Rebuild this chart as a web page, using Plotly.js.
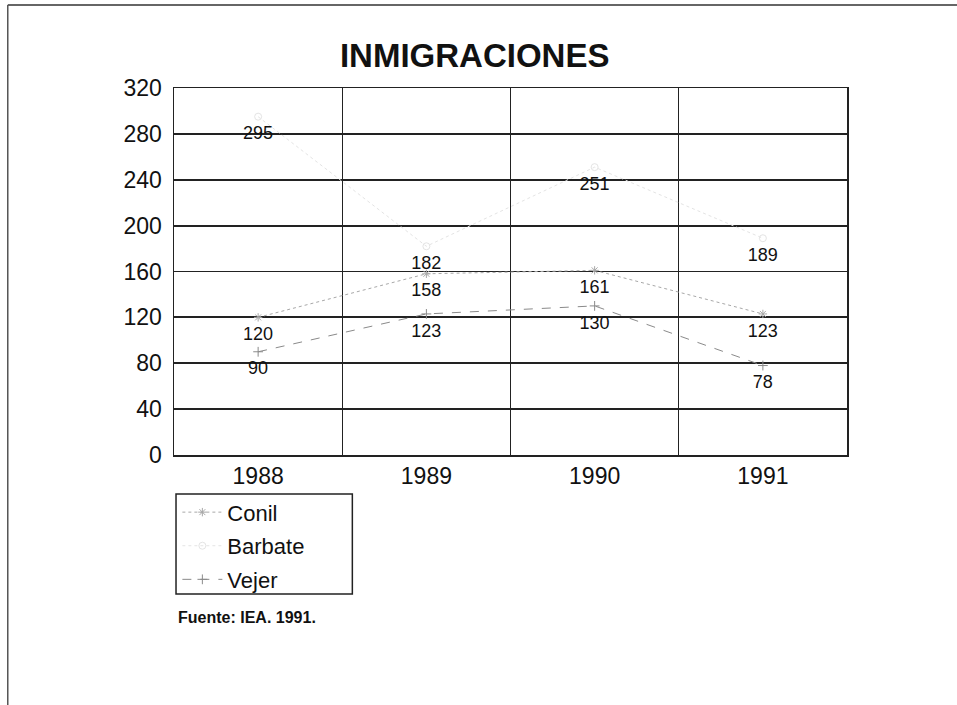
<!DOCTYPE html>
<html>
<head>
<meta charset="utf-8">
<script src="https://cdn.plot.ly/plotly-3.0.1.min.js"></script>
<style>
  html, body { margin: 0; padding: 0; background: #ffffff; }
  #chart { width: 957px; height: 705px; }
</style>
</head>
<body>
<div id="chart"></div>
<script>
// Data
const years = ["1988", "1989", "1990", "1991"];
const conil = [120, 158, 161, 123];
const barbate = [295, 182, 251, 189];
const vejer = [90, 123, 130, 78];
const yTicks = [0, 40, 80, 120, 160, 200, 240, 280, 320];

const FONT = "Liberation Sans, Arial, sans-serif";

function series(name, values, color, dash, symbol, group) {
  return {
    type: "scatter",
    mode: "lines+markers",
    name: name,
    x: years,
    y: values,
    line: { color: color, width: 1, dash: dash },
    marker: { symbol: symbol, size: 7, color: color, line: { color: color, width: 1 } },
    legendgroup: group,
    cliponaxis: false
  };
}

function labels(values, group) {
  return {
    type: "scatter",
    mode: "markers+text",
    x: years,
    y: values,
    text: values.map(String),
    textposition: "bottom center",
    textfont: { family: FONT, size: 18, color: "#111" },
    marker: { size: 13, opacity: 0 },
    legendgroup: group,
    showlegend: false,
    hoverinfo: "skip",
    cliponaxis: false
  };
}

const traces = [
  series("Conil", conil, "#a8a8a8", "dot", "asterisk-open", "g1"),
  series("Barbate", barbate, "#e4e4e4", "dot", "circle-open", "g2"),
  series("Vejer", vejer, "#8a8a8a", "dash", "cross-thin-open", "g3"),
  labels(conil, "g1"),
  labels(barbate, "g2"),
  labels(vejer, "g3")
];

const layout = {
  width: 957,
  height: 705,
  paper_bgcolor: "#ffffff",
  plot_bgcolor: "#ffffff",
  margin: { l: 174, r: 110, t: 88, b: 250 },
  font: { family: FONT, color: "#111" },
  title: {
    text: "<b>INMIGRACIONES</b>",
    font: { family: FONT, size: 33, color: "#111" },
    xref: "container", x: 0.496, xanchor: "center",
    yref: "container", y: 0.922, yanchor: "middle"
  },
  showlegend: true,
  legend: {
    x: 0.005, xanchor: "left",
    y: -0.099, yanchor: "top",
    traceorder: "grouped",
    tracegroupgap: 2,
    bgcolor: "rgba(0,0,0,0)",
    borderwidth: 0,
    font: { family: FONT, size: 22, color: "#111" },
    itemwidth: 40
  },
  xaxis: {
    type: "category",
    range: [-0.5, 3.5],
    tickson: "boundaries",
    showgrid: true,
    gridcolor: "#222",
    gridwidth: 1,
    showline: true,
    linecolor: "#222",
    linewidth: 1.5,
    mirror: true,
    ticks: "",
    tickfont: { family: FONT, size: 23, color: "#111" },
    fixedrange: true
  },
  yaxis: {
    range: [0, 320],
    tickvals: yTicks,
    ticktext: yTicks.map(String),
    showgrid: true,
    gridcolor: "#222",
    gridwidth: 1.8,
    zeroline: false,
    showline: true,
    linecolor: "#222",
    linewidth: 1.5,
    mirror: true,
    ticks: "",
    ticklabelstandoff: 6,
    tickfont: { family: FONT, size: 23, color: "#111" },
    fixedrange: true
  },
  shapes: [
    // legend frame
    { type: "rect", xref: "paper", yref: "paper",
      x0: 0.003, x1: 0.265, y0: -0.106, y1: -0.379,
      line: { color: "#222", width: 1.5 }, fillcolor: "rgba(0,0,0,0)" },
    // scanned page frame (top and left edges)
    { type: "line", xref: "paper", yref: "paper",
      x0: -0.247, x1: 1.164, y0: 1.226, y1: 1.226,
      line: { color: "#333", width: 1.5 } },
    { type: "line", xref: "paper", yref: "paper",
      x0: -0.247, x1: -0.247, y0: 1.226, y1: -0.681,
      line: { color: "#555", width: 1.5 } }
  ],
  annotations: [
    { text: "<b>Fuente: IEA. 1991.</b>", xref: "paper", yref: "paper",
      x: 0.003, y: -0.444, xanchor: "left", yanchor: "middle",
      showarrow: false, font: { family: FONT, size: 16, color: "#111" } }
  ]
};

Plotly.newPlot("chart", traces, layout, { displayModeBar: false, staticPlot: true });
</script>
</body>
</html>
